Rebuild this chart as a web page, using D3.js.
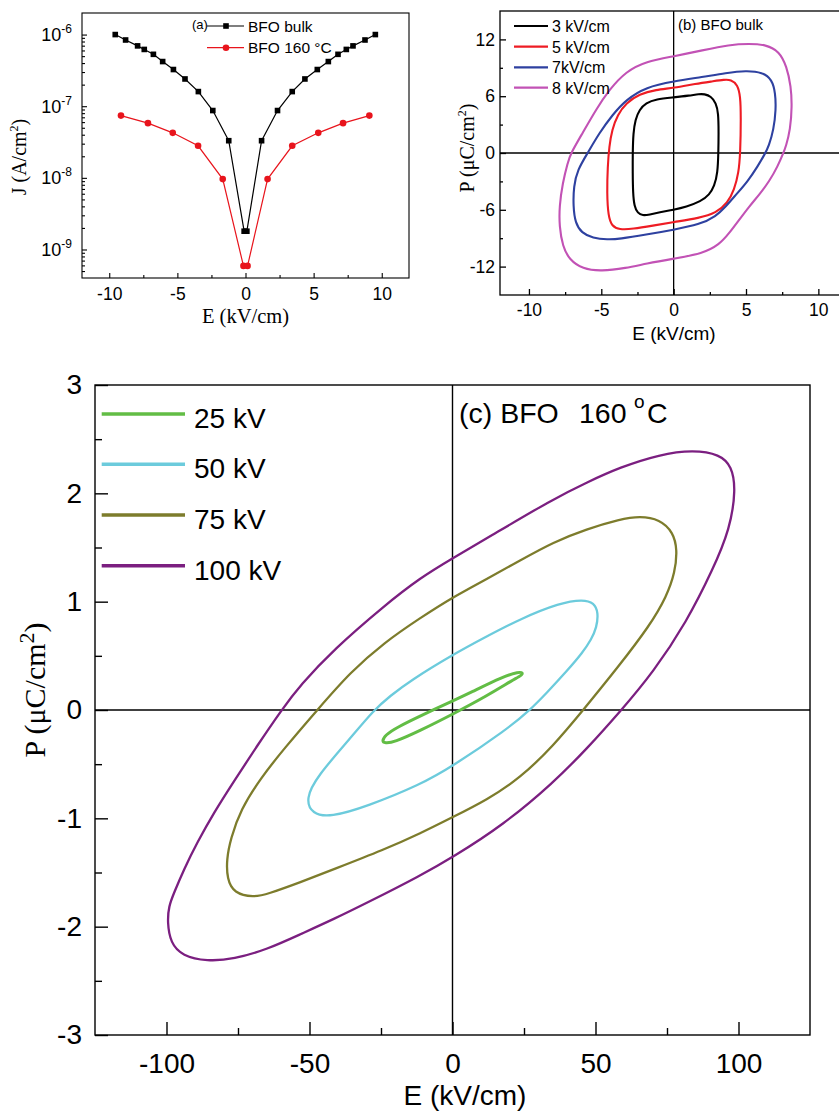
<!DOCTYPE html>
<html><head><meta charset="utf-8">
<script src="https://cdn.jsdelivr.net/npm/d3@7"></script>
<style>body{margin:0;background:#fff}svg{display:block}</style>
</head><body>
<svg id="chart" width="839" height="1115"></svg>
<script>
// ---------- Panel (a): J-E curves ----------
const bulkE = [-9.56,-8.8,-7.92,-7.43,-6.76,-6.08,-5.29,-4.44,-3.46,-2.4,-1.23,-0.1,0.1,1.18,2.35,3.43,4.36,5.27,6.08,6.79,7.4,7.89,8.77,9.53];
const bulkJ = [1.0e-6,8.4e-7,6.95e-7,6.2e-7,5.3e-7,4.2e-7,3.25e-7,2.4e-7,1.6e-7,8.7e-8,3.3e-8,1.8e-9,1.8e-9,3.3e-8,8.7e-8,1.6e-7,2.4e-7,3.25e-7,4.2e-7,5.3e-7,6.2e-7,6.95e-7,8.4e-7,1.0e-6];
const hotE = [-9.14,-7.16,-5.34,-3.48,-1.67,-0.15,0.15,1.62,3.43,5.34,7.16,9.09];
const hotJ = [7.4e-8,5.8e-8,4.25e-8,2.8e-8,9.6e-9,5.9e-10,5.9e-10,9.6e-9,2.8e-8,4.25e-8,5.8e-8,7.4e-8];
const aSeries = ["BFO bulk", "BFO 160 °C"];
const aXTicks = [-10,-5,0,5,10];
const aYTicks = [1e-9,1e-8,1e-7,1e-6];

// ---------- Panel (b): P-E loops, BFO bulk ----------
const bLabels = ["3 kV/cm","5 kV/cm","7kV/cm","8 kV/cm"];
const loop3 = [[2.12,6.23],[2.58,5.99],[2.93,5.28],[3.09,4.23],[3.11,2.11],[3.09,0],[3.04,-2.11],[2.81,-3.52],[2.47,-4.40],[1.89,-5.11],[0.85,-5.70],[0,-5.99],[-0.99,-6.27],[-1.68,-6.51],[-2.14,-6.62],[-2.49,-6.34],[-2.72,-5.63],[-2.81,-4.23],[-2.83,-2.11],[-2.83,0],[-2.79,2.11],[-2.65,3.52],[-2.37,4.58],[-1.91,5.28],[-1.22,5.70],[0,5.88],[1.08,6.06],[1.77,6.23]];
const loop5 = [[3.96,7.75],[4.42,7.22],[4.61,5.99],[4.65,3.87],[4.61,0],[4.49,-2.11],[4.19,-3.87],[3.73,-5.28],[2.93,-6.34],[1.77,-6.87],[0,-7.29],[-1.45,-7.68],[-2.83,-8.03],[-3.76,-8.10],[-4.26,-7.75],[-4.52,-6.69],[-4.61,-4.23],[-4.56,-1.41],[-4.45,0.70],[-4.26,2.46],[-3.87,4.05],[-3.29,5.28],[-2.37,6.23],[-1.22,6.69],[0,6.87],[1.54,7.32],[2.70,7.57],[3.50,7.75]];
const loop7 = [[5.0,8.70],[6.15,8.52],[6.80,7.75],[7.03,6.34],[7.07,4.58],[6.91,2.46],[6.57,0.70],[6.34,0],[5.81,-1.41],[5.12,-2.99],[4.31,-4.40],[3.62,-5.63],[2.93,-6.69],[1.77,-7.57],[0,-8.10],[-1.91,-8.63],[-3.76,-9.08],[-4.56,-9.15],[-5.60,-8.98],[-6.36,-8.45],[-6.80,-7.39],[-6.94,-5.63],[-6.91,-3.52],[-6.64,-1.76],[-5.94,0],[-5.14,2.11],[-4.22,4.05],[-3.29,5.63],[-1.91,6.97],[0,7.57],[2.0,8.03],[3.62,8.45]];
const loop8 = [[5.23,11.55],[6.38,11.44],[7.30,10.74],[7.81,9.15],[8.11,7.04],[8.18,4.93],[8.06,2.46],[7.76,0.70],[7.58,0],[7.19,-1.41],[6.61,-2.99],[5.92,-4.40],[5.23,-5.63],[4.54,-7.04],[3.85,-8.45],[3.16,-9.68],[2.0,-10.63],[0,-11.16],[-1.91,-11.69],[-3.29,-12.15],[-5.02,-12.50],[-6.29,-12.25],[-7.21,-11.27],[-7.67,-9.86],[-7.90,-7.75],[-7.90,-5.63],[-7.67,-3.17],[-7.33,-1.06],[-7.10,0],[-6.29,2.11],[-5.37,4.58],[-4.45,6.69],[-3.29,8.63],[-1.91,9.68],[0,10.21],[2.0,10.85],[3.85,11.44]];
const bXTicks = [-10,-5,0,5,10];
const bYTicks = [-12,-6,0,6,12];

// ---------- Panel (c): P-E loops, BFO 160 °C ----------
const cLabels = ["25 kV","50 kV","75 kV","100 kV"];
const loop25 = [[23.2,0.352],[24.6,0.345],[24.2,0.32],[21.3,0.28],[12,0.13],[0,-0.04],[-11.3,-0.19],[-20.6,-0.30],[-23.6,-0.305],[-24.7,-0.29],[-23.5,-0.23],[-19.4,-0.16],[-11.3,-0.055],[0,0.083],[6.2,0.16],[17.8,0.31]];
const loop50 = [[45.7,1.02],[49.5,0.99],[51,0.90],[50.4,0.76],[48.5,0.65],[45.5,0.53],[40,0.36],[33,0.16],[27.1,0],[19,-0.18],[0,-0.52],[-11.3,-0.69],[-29.9,-0.89],[-42.7,-0.99],[-49.1,-0.96],[-51.4,-0.82],[-47.3,-0.61],[-36,-0.27],[-27.5,0],[-21.8,0.13],[-14.8,0.27],[0,0.51],[12,0.68],[23.6,0.84],[37.6,0.99]];
const loop75 = [[65.5,1.79],[72.5,1.76],[77.2,1.64],[78.6,1.48],[77.8,1.27],[74.9,1.05],[69,0.78],[58,0.40],[45.7,0],[35.3,-0.33],[23.6,-0.63],[12,-0.83],[0,-0.99],[-11.3,-1.14],[-24,-1.29],[-41.5,-1.47],[-53.2,-1.59],[-64.8,-1.70],[-69.5,-1.73],[-76.5,-1.69],[-78.8,-1.56],[-79,-1.38],[-77.6,-1.19],[-74.1,-0.92],[-67.1,-0.63],[-59,-0.36],[-47.3,0],[-35.7,0.35],[-24,0.62],[-11.3,0.85],[0,1.04],[12,1.21],[23.6,1.38],[35.3,1.55],[46.9,1.67],[58.5,1.76]];
const loop100 = [[84.2,2.40],[93.5,2.36],[97.6,2.25],[99.1,2.04],[97,1.67],[91.1,1.30],[81.8,0.81],[70.2,0.35],[59.1,0],[46.9,-0.36],[35.3,-0.67],[17.8,-1.06],[0,-1.36],[-11.3,-1.53],[-29.9,-1.78],[-41.5,-1.93],[-53.2,-2.07],[-64.8,-2.21],[-76.5,-2.30],[-85.8,-2.32],[-94.5,-2.27],[-98.6,-2.15],[-99.7,-1.96],[-99.2,-1.81],[-97.4,-1.69],[-93.9,-1.47],[-89.2,-1.22],[-83.5,-0.95],[-76.5,-0.66],[-68.3,-0.33],[-59.8,0],[-53.2,0.23],[-41.5,0.56],[-24,0.96],[-11.3,1.22],[0,1.40],[12,1.585],[35.3,1.95],[46.9,2.10],[58.5,2.24],[72.5,2.36]];
const cXTicks = [-100,-50,0,50,100];
const cYTicks = [-3,-2,-1,0,1,2,3];

// ---------- drawing ----------
const SANS = "'Liberation Sans', Arial, sans-serif";
const SERIF = "'Liberation Serif', 'Times New Roman', serif";
const svg = d3.select("#chart");

function axes(g, x, y, o) {
  const fmt = d => String(d);
  g.append("g").attr("transform", `translate(0,${y.range()[0]})`)
    .call(d3.axisBottom(x).tickValues(o.xt).tickSize(-o.maj).tickPadding(o.xpad).tickFormat(o.xfmt || fmt))
    .call(s => s.select(".domain").remove())
    .call(s => s.selectAll("text").attr("font-family", SANS).attr("font-size", o.fs).attr("fill", "#000"));
  g.append("g").attr("transform", `translate(0,${y.range()[0]})`)
    .call(d3.axisBottom(x).tickValues(o.xm).tickSize(-o.min).tickFormat(""))
    .call(s => s.select(".domain").remove());
  g.append("g").attr("transform", `translate(${x.range()[0]},0)`)
    .call(d3.axisLeft(y).tickValues(o.yt).tickSize(-o.maj).tickPadding(o.ypad).tickFormat(o.yfmt || fmt))
    .call(s => s.select(".domain").remove())
    .call(s => s.selectAll("text").attr("font-family", SANS).attr("font-size", o.fs).attr("fill", "#000"));
  g.append("g").attr("transform", `translate(${x.range()[0]},0)`)
    .call(d3.axisLeft(y).tickValues(o.ym).tickSize(-o.min).tickFormat(""))
    .call(s => s.select(".domain").remove());
  g.selectAll(".tick line").attr("stroke", "#000").attr("stroke-width", o.sw || 1.2);
  g.append("rect").attr("x", x.range()[0]).attr("y", y.range()[1])
    .attr("width", x.range()[1] - x.range()[0]).attr("height", y.range()[0] - y.range()[1])
    .attr("fill", "none").attr("stroke", "#000").attr("stroke-width", o.sw || 1.2);
}

// ===== Panel (a) =====
{
  const g = svg.append("g");
  const x = d3.scaleLinear().domain([-12, 12]).range([82, 409]);
  const y = d3.scaleLog().domain([4e-10, 2e-6]).range([278, 13]);
  const minorsY = [];
  for (let e = -10; e <= -6; e++) for (let k = 2; k <= 9; k++) { const v = k * Math.pow(10, e); if (v > 4e-10 && v < 2e-6) minorsY.push(v); }
  axes(g, x, y, { xt: aXTicks, xm: [-7.5,-2.5,2.5,7.5], yt: aYTicks, ym: minorsY, maj: 5, min: 3, xpad: 10, ypad: 10, fs: 17.5, yfmt: () => "" , sw: 1.1});
  aYTicks.forEach(v => {
    const t = g.append("text").attr("x", 72).attr("y", y(v) + 6.5).attr("text-anchor", "end")
      .attr("font-family", SANS).attr("font-size", 18);
    t.append("tspan").text("10");
    t.append("tspan").attr("font-size", 12).attr("dy", -8).text("-" + Math.round(-Math.log10(v)));
  });
  const bulk = bulkE.map((e, i) => [e, bulkJ[i]]);
  const hot = hotE.map((e, i) => [e, hotJ[i]]);
  const line = d3.line().x(d => x(d[0])).y(d => y(d[1]));
  g.append("path").attr("d", line(bulk)).attr("fill", "none").attr("stroke", "#000").attr("stroke-width", 1.2);
  g.append("path").attr("d", line(hot)).attr("fill", "none").attr("stroke", "#e8141c").attr("stroke-width", 1.2);
  g.selectAll(".sq").data(bulk).join("rect").attr("x", d => x(d[0]) - 2.8).attr("y", d => y(d[1]) - 2.8)
    .attr("width", 5.6).attr("height", 5.6).attr("fill", "#000");
  g.selectAll(".ci").data(hot).join("circle").attr("cx", d => x(d[0])).attr("cy", d => y(d[1]))
    .attr("r", 3.3).attr("fill", "#e8141c");
  g.append("text").attr("x", 192).attr("y", 29).attr("font-family", SANS).attr("font-size", 13).text("(a)");
  g.append("line").attr("x1", 207).attr("x2", 244).attr("y1", 26).attr("y2", 26).attr("stroke", "#000").attr("stroke-width", 1.2);
  g.append("rect").attr("x", 223.2).attr("y", 23.2).attr("width", 5.6).attr("height", 5.6).attr("fill", "#000");
  g.append("text").attr("x", 248).attr("y", 31.5).attr("font-family", SANS).attr("font-size", 15.5).text(aSeries[0]);
  g.append("line").attr("x1", 207).attr("x2", 244).attr("y1", 47.7).attr("y2", 47.7).attr("stroke", "#e8141c").attr("stroke-width", 1.2);
  g.append("circle").attr("cx", 226).attr("cy", 47.7).attr("r", 3.3).attr("fill", "#e8141c");
  g.append("text").attr("x", 248).attr("y", 53).attr("font-family", SANS).attr("font-size", 15.5).text(aSeries[1]);
  g.append("text").attr("x", 245.5).attr("y", 323).attr("text-anchor", "middle").attr("font-family", SERIF).attr("font-size", 20.5).text("E (kV/cm)");
  const yt = g.append("text").attr("transform", "translate(26,157) rotate(-90)").attr("text-anchor", "middle")
    .attr("font-family", SERIF).attr("font-size", 20);
  yt.append("tspan").text("J (A/cm");
  yt.append("tspan").attr("font-size", 12).attr("dy", -8).text("2");
  yt.append("tspan").attr("dy", 8).text(")");
}

// ===== Panel (b) =====
{
  const g = svg.append("g");
  const x = d3.scaleLinear().domain([-12, 12]).range([500, 847.3]);
  const y = d3.scaleLinear().domain([-15, 15]).range([295, 11]);
  axes(g, x, y, { xt: bXTicks, xm: [-7.5,-2.5,2.5,7.5], yt: bYTicks, ym: [-9,-3,3,9], maj: 6, min: 3, xpad: 9, ypad: 5, fs: 17.5, sw: 1.3 });
  g.append("line").attr("x1", x(0)).attr("x2", x(0)).attr("y1", y(15)).attr("y2", y(-15)).attr("stroke", "#000").attr("stroke-width", 1.3);
  g.append("line").attr("x1", x(-12)).attr("x2", x(12)).attr("y1", y(0)).attr("y2", y(0)).attr("stroke", "#000").attr("stroke-width", 1.3);
  const loops = [loop3, loop5, loop7, loop8];
  const colors = ["#000000", "#ee1c24", "#2e41a0", "#c252b5"];
  const line = d3.line().x(d => x(d[0])).y(d => y(d[1])).curve(d3.curveBasisClosed);
  loops.forEach((L, i) => g.append("path").attr("d", line(L)).attr("fill", "none").attr("stroke", colors[i]).attr("stroke-width", 2.1));
  const ly = [26, 46.7, 67.3, 87.7];
  bLabels.forEach((lab, i) => {
    g.append("line").attr("x1", 514).attr("x2", 548).attr("y1", ly[i]).attr("y2", ly[i]).attr("stroke", colors[i]).attr("stroke-width", 2.2);
    g.append("text").attr("x", 552).attr("y", ly[i] + 6).attr("font-family", SANS).attr("font-size", 16).text(lab);
  });
  g.append("text").attr("x", 678).attr("y", 29.5).attr("font-family", SANS).attr("font-size", 15).text("(b) BFO bulk");
  g.append("text").attr("x", 674).attr("y", 340).attr("text-anchor", "middle").attr("font-family", SANS).attr("font-size", 19).text("E (kV/cm)");
  const yt = g.append("text").attr("transform", "translate(474,148) rotate(-90)").attr("text-anchor", "middle")
    .attr("font-family", SERIF).attr("font-size", 20);
  yt.append("tspan").text("P (\u03bcC/cm");
  yt.append("tspan").attr("font-size", 12).attr("dy", -8).text("2");
  yt.append("tspan").attr("dy", 8).text(")");
}

// ===== Panel (c) =====
{
  const g = svg.append("g");
  const x = d3.scaleLinear().domain([-125, 125]).range([95, 810]);
  const y = d3.scaleLinear().domain([-3, 3]).range([1035, 385]);
  axes(g, x, y, { xt: cXTicks, xm: [-75,-25,25,75], yt: cYTicks, ym: [-2.5,-1.5,-0.5,0.5,1.5,2.5], maj: 13, min: 7, xpad: 18, ypad: 13, fs: 28, sw: 1.4 });
  g.append("line").attr("x1", x(0)).attr("x2", x(0)).attr("y1", y(3)).attr("y2", y(-3)).attr("stroke", "#000").attr("stroke-width", 1.4);
  g.append("line").attr("x1", x(-125)).attr("x2", x(125)).attr("y1", y(0)).attr("y2", y(0)).attr("stroke", "#000").attr("stroke-width", 1.4);
  const loops = [loop25, loop50, loop75, loop100];
  const colors = ["#62bd45", "#6ccbdc", "#7d7c2c", "#7b1f80"];
  const line = d3.line().x(d => x(d[0])).y(d => y(d[1])).curve(d3.curveBasisClosed);
  loops.forEach((L, i) => g.append("path").attr("d", line(L)).attr("fill", "none").attr("stroke", colors[i]).attr("stroke-width", i === 0 ? 3 : 2.3));
  const ly = [414, 464.3, 515, 565.7];
  cLabels.forEach((lab, i) => {
    g.append("line").attr("x1", 101.7).attr("x2", 185).attr("y1", ly[i]).attr("y2", ly[i]).attr("stroke", colors[i]).attr("stroke-width", 3.5);
    g.append("text").attr("x", 194).attr("y", ly[i] + 14).attr("font-family", SANS).attr("font-size", 28).text(lab);
  });
  g.append("text").attr("x", 459).attr("y", 423).attr("font-family", SANS).attr("font-size", 28.5).text("(c) BFO");
  g.append("text").attr("x", 579).attr("y", 423).attr("font-family", SANS).attr("font-size", 28.5).text("160");
  g.append("text").attr("x", 634).attr("y", 408).attr("font-family", SANS).attr("font-size", 19).text("o");
  g.append("text").attr("x", 647).attr("y", 423).attr("font-family", SANS).attr("font-size", 28.5).text("C");
  g.append("text").attr("x", 465).attr("y", 1105).attr("text-anchor", "middle").attr("font-family", SANS).attr("font-size", 28).text("E (kV/cm)");
  const yt = g.append("text").attr("transform", "translate(45,690) rotate(-90)").attr("text-anchor", "middle")
    .attr("font-family", SERIF).attr("font-size", 30);
  yt.append("tspan").text("P (\u03bcC/cm");
  yt.append("tspan").attr("font-size", 22).attr("dy", -11).text("2");
  yt.append("tspan").attr("dy", 11).text(")");
}
</script>
</body></html>
